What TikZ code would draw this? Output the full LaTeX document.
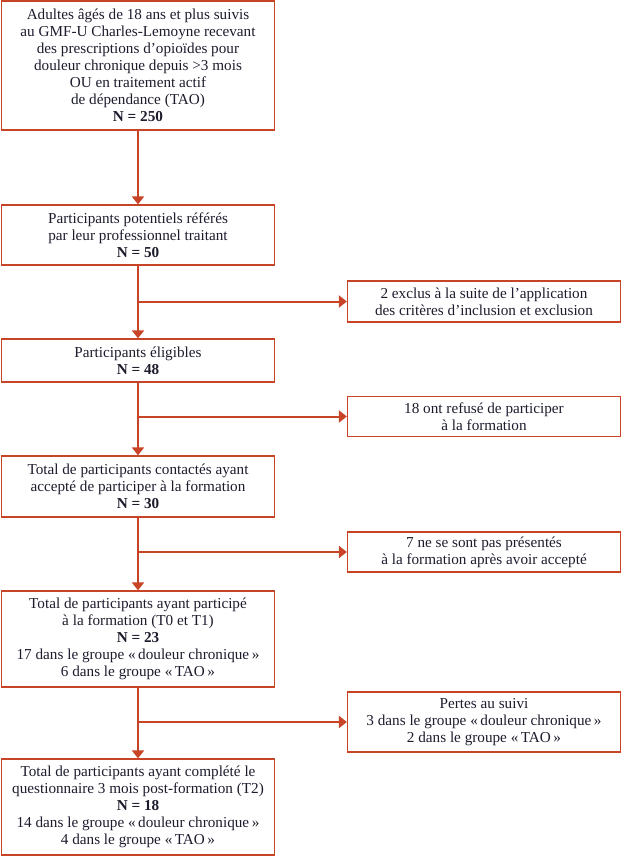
\documentclass[tikz,border=0pt]{standalone}
\usepackage{fontspec}
\setmainfont{Liberation Serif}
\usetikzlibrary{arrows.meta}
\definecolor{fr}{RGB}{200,68,38}
\definecolor{tx}{RGB}{28,28,45}
\begin{document}
\begin{tikzpicture}[x=1pt,y=-1pt,
  box/.style={draw=fr,line width=1.3pt,minimum width=273pt,align=center,text=tx,
    font=\fontsize{15.2}{17}\selectfont,inner sep=0pt,anchor=center},
  arr/.style={draw=fr,line width=2pt,-{Triangle[length=8pt,width=12pt]}}]
\useasboundingbox (0,0) rectangle (622,856);
\node[box,minimum height=129pt] (b1) at (138,65.5) {Adultes âgés de 18 ans et plus suivis\\au GMF-U Charles-Lemoyne recevant\\des prescriptions d’opioïdes pour\\douleur chronique depuis >3 mois\\OU en traitement actif\\de dépendance (TAO)\\\textbf{N = 250}};
\node[box,minimum height=60pt] (b2) at (138,235) {Participants potentiels référés\\par leur professionnel traitant\\\textbf{N = 50}};
\node[box,minimum height=43pt] (b3) at (138,360.5) {Participants éligibles\\\textbf{N = 48}};
\node[box,minimum height=61pt] (b4) at (138,486.5) {Total de participants contactés ayant\\accepté de participer à la formation\\\textbf{N = 30}};
\node[box,minimum height=96pt] (b5) at (138,639) {Total de participants ayant participé\\à la formation (T0 et T1)\\\textbf{N = 23}\\17 dans le groupe «\,douleur chronique\,»\\6 dans le groupe «\,TAO\,»};
\node[box,minimum height=96pt] (b6) at (138,807) {Total de participants ayant complété le\\questionnaire 3 mois post-formation (T2)\\\textbf{N = 18}\\14 dans le groupe «\,douleur chronique\,»\\4 dans le groupe «\,TAO\,»};
\node[box,minimum height=41pt] (r1) at (484,301.5) {2 exclus à la suite de l’application\\des critères d’inclusion et exclusion};
\node[box,minimum height=40pt] (r2) at (484,416.5) {18 ont refusé de participer\\à la formation};
\node[box,minimum height=40pt] (r3) at (484,552) {7 ne se sont pas présentés\\à la formation après avoir accepté};
\node[box,minimum height=60pt] (r4) at (484,722) {Pertes au suivi\\3 dans le groupe «\,douleur chronique\,»\\2 dans le groupe «\,TAO\,»};
\draw[arr] (b1) -- (b2);
\draw[arr] (b2) -- (b3);
\draw[arr] (b3) -- (b4);
\draw[arr] (b4) -- (b5);
\draw[arr] (b5) -- (b6);
\coordinate (j1) at (b2.south |- r1.west);
\coordinate (j2) at (b3.south |- r2.west);
\coordinate (j3) at (b4.south |- r3.west);
\coordinate (j4) at (b5.south |- r4.west);
\draw[arr] (j1) -- (r1.west);
\draw[arr] (j2) -- (r2.west);
\draw[arr] (j3) -- (r3.west);
\draw[arr] (j4) -- (r4.west);
\end{tikzpicture}
\end{document}
